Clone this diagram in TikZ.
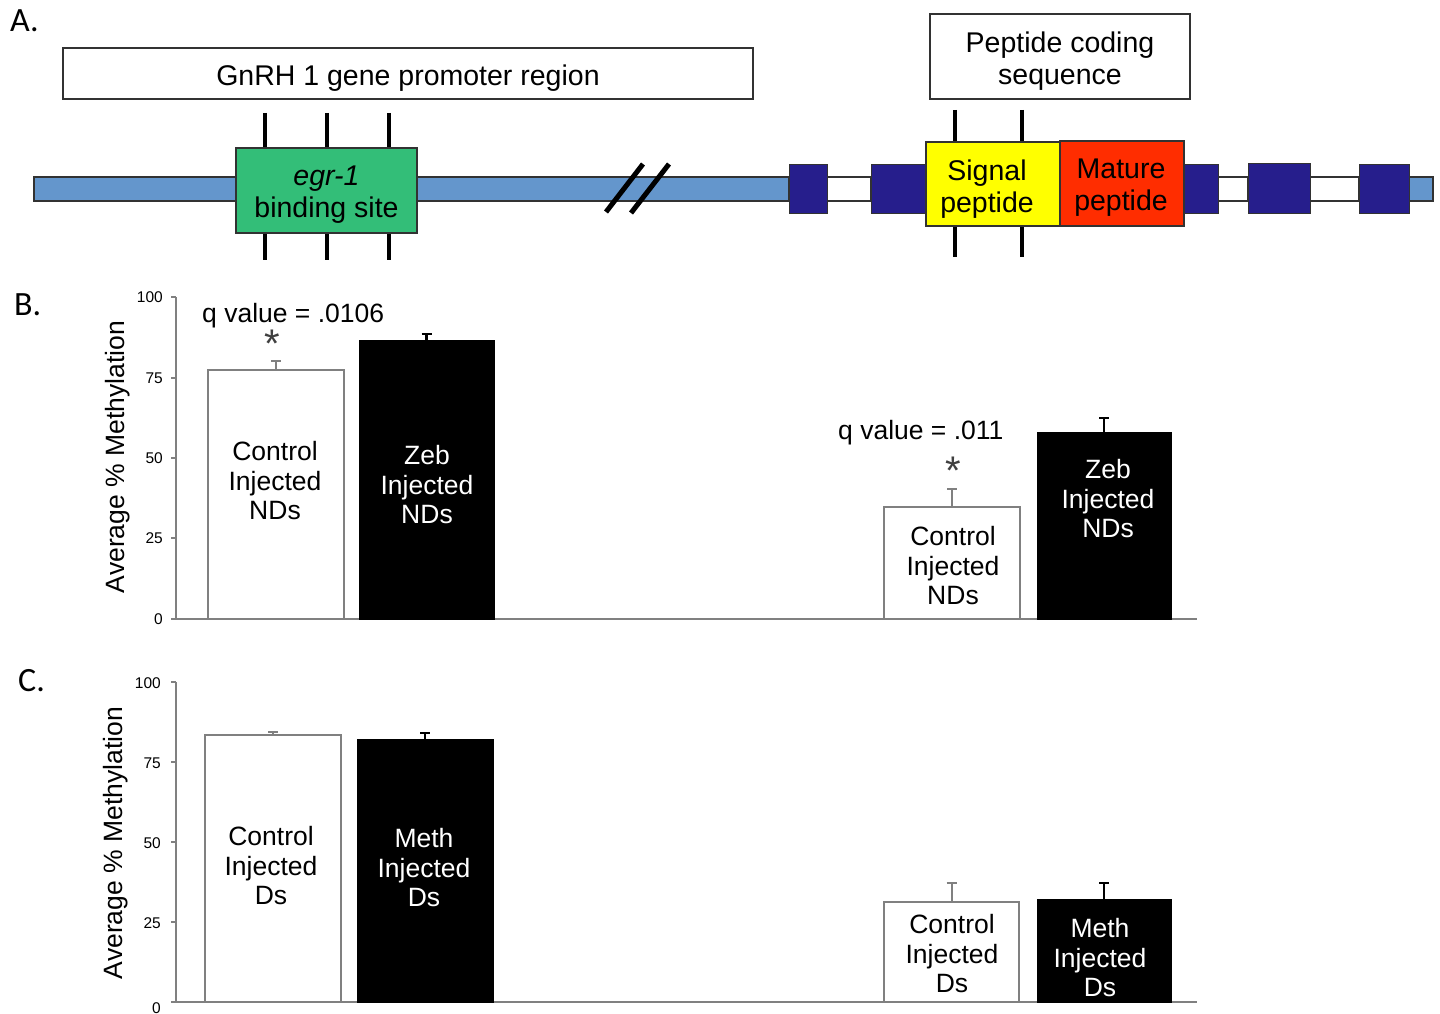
\documentclass[tikz,border=0pt]{standalone}
\usepackage{fontspec}
\setmainfont{Liberation Sans}
\newfontfamily\calfont{Carlito}
\definecolor{lblue}{RGB}{100,150,204}
\definecolor{egrgreen}{RGB}{51,190,120}
\definecolor{dblue}{RGB}{38,30,140}
\definecolor{sigyellow}{RGB}{255,255,0}
\definecolor{matred}{RGB}{255,45,0}
\definecolor{axgray}{RGB}{128,128,128}
\definecolor{edgegray}{RGB}{50,50,50}
\begin{document}
\begin{tikzpicture}[x=1pt,y=-1pt,
  abox/.style={draw=edgegray, line width=1.6pt, fill=white, inner sep=0pt, outer sep=0pt},
  atext/.style={font=\fontsize{28.5}{32}\selectfont, align=center, inner sep=0pt},
  panlab/.style={font=\calfont\fontsize{34}{36}\selectfont, inner sep=0pt, anchor=west},
  barlab/.style={font=\fontsize{26.5}{29.5}\selectfont, align=center, inner sep=0pt},
  qlab/.style={font=\fontsize{26.5}{29.5}\selectfont, inner sep=0pt},
  star/.style={font=\fontsize{40}{40}\selectfont, text=black!75, inner sep=0pt},
  ticklab/.style={font=\fontsize{15.5}{17}\selectfont, anchor=east, inner sep=0pt},
  ylab/.style={font=\fontsize{26.5}{29.5}\selectfont, rotate=90, inner sep=0pt},
  wbar/.style={draw=axgray, line width=2.2pt, fill=white, inner sep=0pt, outer sep=0pt, anchor=south},
  kbar/.style={draw=black, line width=1pt, fill=black, inner sep=0pt, outer sep=0pt, anchor=south},
  axline/.style={draw=axgray, line width=2pt},
  gerr/.style={draw=axgray, line width=2pt},
  kerr/.style={draw=black, line width=2.2pt},
  tickmark/.style={draw=black, line width=4pt},
  exon/.style={draw=edgegray, line width=1pt, fill=dblue},
  intron/.style={draw=edgegray, line width=1.2pt, fill=white},
  chrom/.style={draw=edgegray, line width=1.2pt, fill=lblue}
]
\fill[white] (0,0) rectangle (1440,1014);
\useasboundingbox (0,0) rectangle (1440,1014);

%% ---------------- Panel A ----------------
\node[panlab] (labA) at (10,21) {A.};
\node[abox, minimum width=690pt, minimum height=51pt] (prom) at (408,73.5) {};
\node[atext] (promt) at (408,78) {GnRH 1 gene promoter region};
\node[abox, minimum width=260pt, minimum height=85pt] (pcs) at (1060,56.5) {};
\node[atext] (pcst) at (1060,61) {Peptide coding\\sequence};

% chromosome line and introns
\draw[chrom] (34,177) rectangle (789,201);
\draw[chrom] (1409,177) rectangle (1433,201);
\draw[intron] (827,177) rectangle (871,201);
\draw[intron] (1218,177) rectangle (1248,201);
\draw[intron] (1310,177) rectangle (1359,201);

% break marks
\draw[black, line width=5pt] (606,212) -- (643,164);
\draw[black, line width=5pt] (631,213) -- (669,164);

% exons
\draw[exon] (789,164) rectangle (827,213);
\draw[exon] (871,164) rectangle (926,213);
\draw[exon] (1184,164) rectangle (1218,213);
\draw[exon] (1248,163) rectangle (1310,213);
\draw[exon] (1359,164) rectangle (1409,213);

% tick marks (egr-1)
\foreach \tx in {265,327,389} {
  \draw[tickmark] (\tx,113) -- (\tx,149);
  \draw[tickmark] (\tx,232) -- (\tx,260);
}
% tick marks (signal peptide)
\foreach \tx in {955,1022} {
  \draw[tickmark] (\tx,110) -- (\tx,143);
  \draw[tickmark] (\tx,225) -- (\tx,257);
}

\node[draw=edgegray, line width=1.6pt, fill=egrgreen, minimum width=181pt, minimum height=85pt, inner sep=0pt] (egr) at (326.5,190.5) {};
\node[atext] (egrt) at (326.5,195) {\itshape egr-1\\binding site};

\node[draw=edgegray, line width=1.6pt, fill=sigyellow, minimum width=134pt, minimum height=84pt, inner sep=0pt] (sig) at (993,184) {};
\node[atext] (sigt) at (987,189) {Signal\\peptide};
\node[draw=edgegray, line width=1.6pt, fill=matred, minimum width=124pt, minimum height=85pt, inner sep=0pt] (mat) at (1122,183.5) {};
\node[atext] (matt) at (1121,188) {Mature\\peptide};

%% ---------------- Panel B ----------------
\node[panlab] (labB) at (14,305) {B.};
\draw[axline] (176,297) -- (176,619) -- (1197,619);
\foreach \v/\yy in {100/297,75/378,50/458,25/538,0/619} {
  \draw[axline] (171,\yy) -- (176,\yy);
  \node[ticklab] at (163,\yy) {\v};
}
\node[ylab] (ylB) at (118,457) {Average \% Methylation};

\node[wbar, minimum width=136pt, minimum height=249pt] (b1) at (276,619) {};
\draw[gerr] (b1.north) -- ++(0,-9) ++(-5,0) -- ++(10,0);
\node[kbar, minimum width=135pt, minimum height=279pt] (b2) at (426.5,619) {};
\draw[kerr] (b2.north) -- ++(0,-6) ++(-5,0) -- ++(10,0);
\node[wbar, minimum width=136pt, minimum height=112pt] (b3) at (952,619) {};
\draw[gerr] (b3.north) -- ++(0,-18) ++(-5,0) -- ++(10,0);
\node[kbar, minimum width=134pt, minimum height=187pt] (b4) at (1104,619) {};
\draw[kerr] (b4.north) -- ++(0,-14) ++(-5,0) -- ++(10,0);

\node[barlab] (b1t) at (275,481) {Control\\Injected\\NDs};
\node[barlab, text=white] (b2t) at (427,485) {Zeb\\Injected\\NDs};
\node[barlab] (b3t) at (953,566) {Control\\Injected\\NDs};
\node[barlab, text=white] (b4t) at (1108,499) {Zeb\\Injected\\NDs};

\node[qlab, anchor=west] (q1) at (202,316) {q value = .0106};
\node[star] (s1) at (272,344) {*};
\node[qlab, anchor=west] (q2) at (838,433) {q value = .011};
\node[star] (s2) at (953,471) {*};

%% ---------------- Panel C ----------------
\node[panlab] (labC) at (18,681) {C.};
\draw[axline] (176,682) -- (176,1002) -- (1197,1002);
\foreach \v/\yy in {100/682,75/762,50/842,25/922} {
  \draw[axline] (171,\yy) -- (176,\yy);
  \node[ticklab] at (161,\yy+1) {\v};
}
\draw[axline] (171,1002) -- (176,1002);
\node[ticklab] at (161,1008) {0};
\node[ylab] (ylC) at (116,843) {Average \% Methylation};

\node[wbar, minimum width=136pt, minimum height=267pt] (c1) at (273,1002) {};
\draw[gerr] (c1.north) -- ++(0,-3) ++(-5,0) -- ++(10,0);
\node[kbar, minimum width=136pt, minimum height=263pt] (c2) at (425,1002) {};
\draw[kerr] (c2.north) -- ++(0,-6) ++(-5,0) -- ++(10,0);
\node[wbar, minimum width=135pt, minimum height=100pt] (c3) at (951.5,1002) {};
\draw[gerr] (c3.north) -- ++(0,-19) ++(-5,0) -- ++(10,0);
\node[kbar, minimum width=134pt, minimum height=103pt] (c4) at (1104,1002) {};
\draw[kerr] (c4.north) -- ++(0,-16) ++(-5,0) -- ++(10,0);

\node[barlab] (c1t) at (271,866) {Control\\Injected\\Ds};
\node[barlab, text=white] (c2t) at (424,868) {Meth\\Injected\\Ds};
\node[barlab] (c3t) at (952,954) {Control\\Injected\\Ds};
\node[barlab, text=white] (c4t) at (1100,958) {Meth\\Injected\\Ds};
\end{tikzpicture}
\end{document}
